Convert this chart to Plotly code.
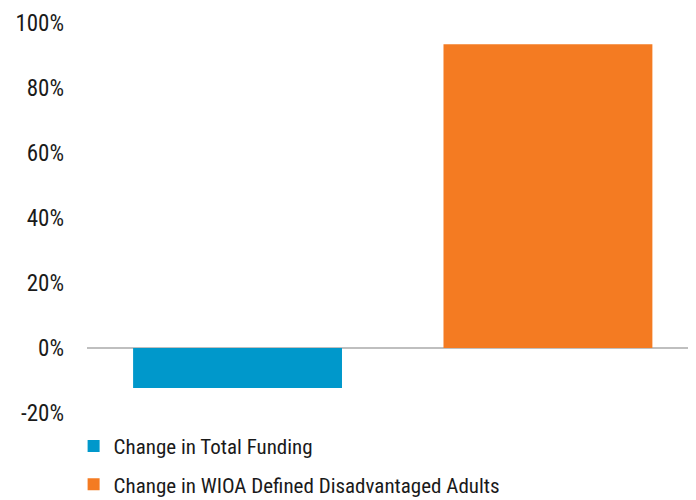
import plotly.graph_objects as go

categories = ["Change in Total Funding", "Change in WIOA Defined Disadvantaged Adults"]
values = [-12.3, 93.5]
colors = ["#0098CB", "#F47B22"]
tick_vals = [-20, 0, 20, 40, 60, 80, 100]
tick_text = ["-20%", "0%", "20%", "40%", "60%", "80%", "100%"]

FONT = "Liberation Sans Narrow, Arial Narrow, Roboto Condensed, sans-serif"

fig = go.Figure()
for i, (cat, val, col) in enumerate(zip(categories, values, colors)):
    fig.add_trace(go.Bar(
        x=[cat], y=[val], name=cat, width=0.673,
        marker=dict(color=col, line=dict(width=0)),
        legendgroup=f"g{i}",
    ))

fig.update_layout(
    width=688, height=492,
    margin=dict(l=79, r=0, t=15, b=87, autoexpand=False),
    paper_bgcolor="white", plot_bgcolor="white",
    barmode="overlay",
    font=dict(family=FONT, size=23, color="#1a1a1a"),
    showlegend=True,
    legend=dict(
        orientation="v", x=-0.022, xanchor="left", y=-0.033, yanchor="top",
        font=dict(family=FONT, size=21, color="#1a1a1a"),
        traceorder="grouped", tracegroupgap=8,
        bgcolor="rgba(0,0,0,0)",
    ),
    xaxis=dict(showticklabels=False, showgrid=False, zeroline=False, showline=False,
               ticks="", range=[-0.485, 1.477]),
    yaxis=dict(
        range=[-20, 100], tickvals=tick_vals, ticktext=tick_text,
        showgrid=False, zeroline=True, zerolinecolor="#BFBFBF", zerolinewidth=2,
        showline=False, ticks="", ticklabelstandoff=22,
    ),
)

fig.write_html("out.html")
